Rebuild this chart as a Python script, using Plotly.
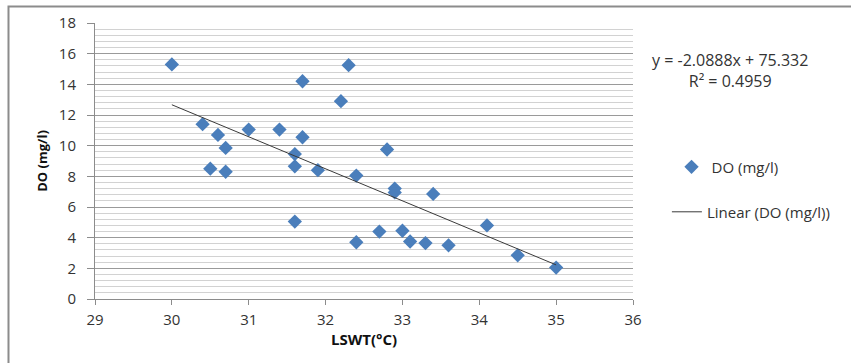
import plotly.graph_objects as go

# ---- data ----
lswt = [30.0, 30.4, 30.6, 30.7, 30.5, 30.7, 31.0, 31.4, 31.6, 31.6,
        31.9, 31.6, 31.7, 31.7, 32.2, 32.3, 32.4, 32.4, 32.7, 32.8,
        32.9, 32.9, 33.0, 33.1, 33.3, 33.4, 33.6, 34.1, 34.5, 35.0]
do_mgl = [15.3, 11.4, 10.7, 9.85, 8.5, 8.3, 11.05, 11.05, 9.45, 8.65,
          8.4, 5.05, 14.2, 10.55, 12.9, 15.25, 8.05, 3.7, 4.4, 9.75,
          7.2, 6.95, 4.45, 3.75, 3.65, 6.85, 3.5, 4.8, 2.85, 2.05]
slope = -2.0888
intercept = 75.332
r_squared = 0.4959
series_name = "DO (mg/l)"
trend_name = "Linear (DO (mg/l))"
x_title = "LSWT(°C)"
y_title = "DO (mg/l)"

FONT = "Open Sans"
BLUE = "#4a7ebb"
TXT = "#333333"

trend_x = [min(lswt), max(lswt)]
trend_y = [slope * v + intercept for v in trend_x]

fig = go.Figure()
fig.add_trace(go.Scatter(
    x=lswt, y=do_mgl, mode="markers", name=series_name,
    marker=dict(symbol="diamond", size=11, color=BLUE, line=dict(width=0)),
    legend="legend", showlegend=True,
))
fig.add_trace(go.Scatter(
    x=trend_x, y=trend_y, mode="lines", name=trend_name,
    line=dict(color="#3a3a3a", width=1),
    legend="legend2", showlegend=True,
))

fig.update_layout(
    width=851, height=363,
    showlegend=True,
    margin=dict(l=95, r=218, t=23, b=64),
    paper_bgcolor="white", plot_bgcolor="white",
    font=dict(family=FONT, size=15, color=TXT),
    legend=dict(x=1.0716, y=0.478, xanchor="left", yanchor="middle",
                bgcolor="rgba(0,0,0,0)", font=dict(size=15, color=TXT)),
    legend2=dict(x=1.063, y=0.315, xanchor="left", yanchor="middle",
                 bgcolor="rgba(0,0,0,0)", font=dict(size=15, color=TXT)),
    xaxis=dict(
        range=[29, 36], dtick=1, tick0=29,
        showgrid=False, zeroline=False,
        showline=True, linecolor="#8c8c8c", linewidth=1,
        ticks="outside", ticklen=5, tickcolor="#8c8c8c",
        ticklabelstandoff=2,
        tickfont=dict(size=15, color=TXT),
        title=dict(text=f"<b>{x_title}</b>", font=dict(size=15, color="#111111"),
                   standoff=6),
    ),
    yaxis=dict(
        range=[0, 18], dtick=2, tick0=0,
        showgrid=True, gridcolor="#9a9a9a", gridwidth=1,
        zeroline=False,
        showline=True, linecolor="#8c8c8c", linewidth=1,
        ticks="outside", ticklen=7, tickcolor="#8c8c8c",
        ticklabelstandoff=8,
        tickfont=dict(size=15, color=TXT),
        minor=dict(dtick=0.4, showgrid=True, gridcolor="#d2d2d2", gridwidth=1),
        title=dict(text=f"<b>{y_title}</b>", font=dict(size=13, color="#111111"), standoff=8),
    ),
    annotations=[
        dict(xref="paper", yref="paper", x=1.180, y=(299 - 70) / 276,
             text=f"y = {slope:.4f}x + {intercept:.3f}<br>R² = {r_squared:.4f}",
             showarrow=False, align="center",
             xanchor="center", yanchor="middle",
             font=dict(size=16, color=TXT)),
    ],
    shapes=[
        dict(type="rect", xref="paper", yref="paper",
             x0=-0.1608, y0=-0.5, x1=1.6, y1=1.0598,
             line=dict(color="#8c8c8c", width=2), layer="below"),
    ],
)

fig.write_html("out.html", config={"displayModeBar": False},
               post_script="document.body.style.margin='0';")
